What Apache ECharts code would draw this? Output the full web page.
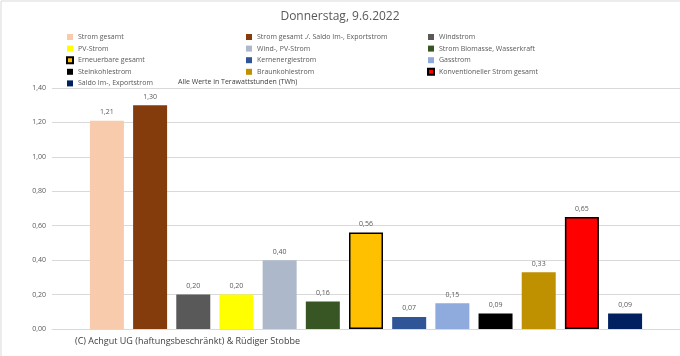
<!DOCTYPE html>
<html>
<head>
<meta charset="utf-8">
<script src="https://cdn.jsdelivr.net/npm/echarts@6/dist/echarts.min.js"></script>
<style>html,body{margin:0;padding:0;background:#fff}#c{width:680px;height:356px}</style>
</head>
<body>
<div id="c"></div>
<script>
const seriesNames = ['Strom gesamt','Strom gesamt ./. Saldo Im-, Exportstrom','Windstrom','PV-Strom','Wind-, PV-Strom','Strom Biomasse, Wasserkraft','Erneuerbare gesamt','Kernenergiestrom','Gasstrom','Steinkohlestrom','Braunkohlestrom','Konventioneller Strom gesamt','Saldo Im-, Exportstrom'];
const seriesValues = [1.21, 1.30, 0.20, 0.20, 0.40, 0.16, 0.56, 0.07, 0.15, 0.09, 0.33, 0.65, 0.09];
const seriesColors = ['#f8cbad','#843c0c','#595959','#ffff00','#adb9ca','#375623','#ffc000','#2f5597','#8faadc','#000000','#bf9000','#ff0000','#002060'];
const borderedSeries = ['Erneuerbare gesamt','Konventioneller Strom gesamt'];
const yTicks = [0, 0.2, 0.4, 0.6, 0.8, 1.0, 1.2, 1.4];
const categories = [''];

const FONT = 'Open Sans';
const fmt = v => Number(v).toFixed(2).replace('.', ',');

const series = seriesNames.map((n, i) => ({
  name: n,
  type: 'bar',
  barWidth: 34,
  barGap: '27%',
  barCategoryGap: '12%',
  data: [seriesValues[i]],
  itemStyle: borderedSeries.includes(n)
    ? { color: seriesColors[i], borderColor: '#000', borderWidth: 1.5 }
    : { color: seriesColors[i] },
  label: { show: true, position: 'top', distance: 5, fontSize: 7, fontFamily: FONT, color: '#595959', formatter: p => fmt(p.value) }
}));

const legendBase = {
  orient: 'vertical', top: 32, padding: 0, itemWidth: 6, itemHeight: 6, itemGap: 1.6, icon: 'rect',
  textStyle: { fontSize: 7, fontFamily: FONT, color: '#595959', lineHeight: 10 },
  selectedMode: false
};
const col1 = [0,3,6,9,12].map(i => seriesNames[i]);
const col2 = [1,4,7,10].map(i => seriesNames[i]);
const col3 = [2,5,8,11].map(i => seriesNames[i]);

const chart = echarts.init(document.getElementById('c'), null, { renderer: 'canvas' });
chart.setOption({
  animation: false,
  title: { text: 'Donnerstag, 9.6.2022', left: 'center', top: 6, textStyle: { fontSize: 12, fontWeight: 'normal', fontFamily: FONT, color: '#595959' } },
  legend: [
    Object.assign({}, legendBase, { left: 66, data: col1 }),
    Object.assign({}, legendBase, { left: 246, data: col2 }),
    Object.assign({}, legendBase, { left: 427, data: col3 })
  ],
  grid: { left: 52, right: 0, top: 88, bottom: 27 },
  xAxis: { type: 'category', data: categories, axisTick: { show: false }, axisLabel: { show: false }, axisLine: { lineStyle: { color: '#d9d9d9' } } },
  yAxis: {
    type: 'value', min: 0, max: 1.4, interval: 0.2,
    axisLabel: { fontSize: 7, fontFamily: FONT, color: '#595959', margin: 6, formatter: v => fmt(v) },
    splitLine: { lineStyle: { color: '#d9d9d9', width: 1 } },
    axisLine: { show: false }, axisTick: { show: false }
  },
  graphic: [
    { type: 'text', left: 178, top: 78, style: { text: 'Alle Werte in Terawattstunden (TWh)', fontSize: 7, fontFamily: FONT, fill: '#404040' } },
    { type: 'text', left: 75, top: 337, style: { text: '(C) Achgut UG (haftungsbeschränkt) & Rüdiger Stobbe', fontSize: 9, fontFamily: FONT, fill: '#404040' } },
    { type: 'line', shape: { x1: 1, y1: 1, x2: 680, y2: 1 }, style: { stroke: '#d9d9d9', lineWidth: 1 } },
    { type: 'line', shape: { x1: 1, y1: 1, x2: 1, y2: 356 }, style: { stroke: '#d9d9d9', lineWidth: 1 } }
  ],
  series: series
});
</script>
</body>
</html>
